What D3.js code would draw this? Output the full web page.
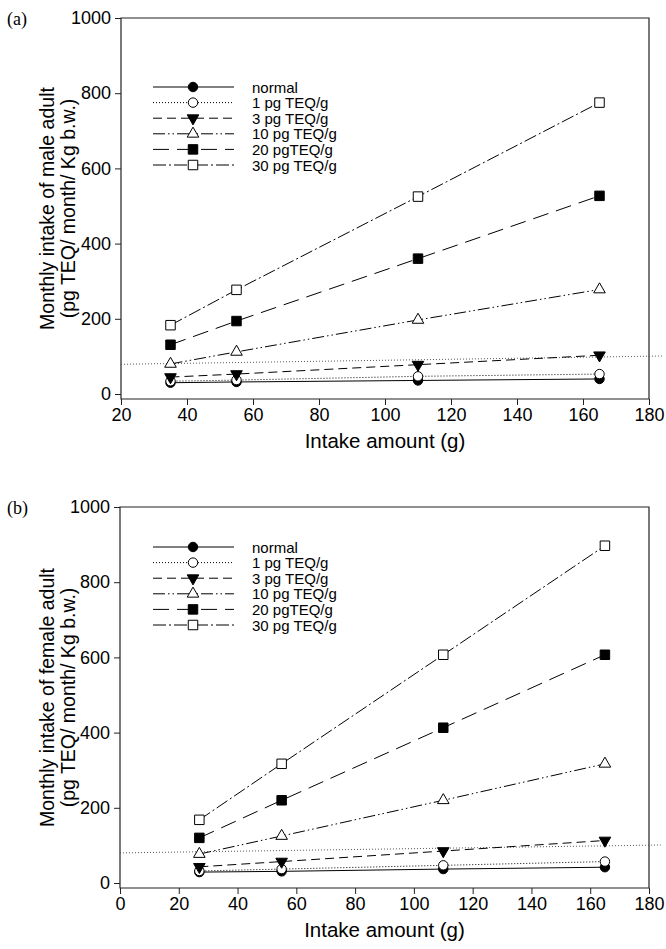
<!DOCTYPE html>
<html>
<head>
<meta charset="utf-8">
<script src="https://cdn.jsdelivr.net/npm/d3@7"></script>
<style>
body{margin:0;background:#fff;}
svg{display:block;}
text{font-family:"Liberation Sans",Arial,sans-serif;fill:#000;}
</style>
</head>
<body>
<svg id="chart" width="666" height="949"></svg>
<script>
// ---- data ----
const seriesNames = ["normal", "1 pg TEQ/g", "3 pg TEQ/g", "10 pg TEQ/g", "20 pgTEQ/g", "30 pg TEQ/g"];
const maleX = [35, 55, 110, 165];
const maleNormal = [30, 32, 36, 40];
const male1 = [34, 37, 47, 53];
const male3 = [45, 53, 78, 103];
const male10 = [80, 112, 197, 278];
const male20 = [131, 194, 360, 527];
const male30 = [183, 277, 525, 775];
const femaleX = [27, 55, 110, 165];
const femaleNormal = [29, 31, 37, 42];
const female1 = [32, 37, 47, 57];
const female3 = [43, 57, 85, 113];
const female10 = [77, 125, 220, 317];
const female20 = [120, 220, 413, 607];
const female30 = [168, 317, 607, 897];
const maleRefX = [20, 184];
const maleRefY = [79, 101];
const femaleRefX = [0, 184];
const femaleRefY = [80, 101];
const yTicks = [0, 200, 400, 600, 800, 1000];
const maleXTicks = [20, 40, 60, 80, 100, 120, 140, 160, 180];
const femaleXTicks = [0, 20, 40, 60, 80, 100, 120, 140, 160, 180];

// ---- styles ----
const dashes = ["none", "1,2", "9,5", "12,3,1.5,3,1.5,3", "16,8", "13,3,2,3"];
const markers = [
  {type: d3.symbolCircle, size: 70, fill: "#000", rot: 0},
  {type: d3.symbolCircle, size: 70, fill: "#fff", rot: 0},
  {type: d3.symbolTriangle, size: 58, fill: "#000", rot: 180},
  {type: d3.symbolTriangle, size: 58, fill: "#fff", rot: 0},
  {type: d3.symbolSquare, size: 90, fill: "#000", rot: 0},
  {type: d3.symbolSquare, size: 90, fill: "#fff", rot: 0}
];

const svg = d3.select("#chart");

function panel(opt) {
  const g = svg.append("g");
  const x = d3.scaleLinear().domain(opt.xDomain).range(opt.xRange);
  const y = d3.scaleLinear().domain([0, 1000]).range(opt.yRange);
  const axisY = y(0) + 5;
  const left = opt.xRange[0], right = opt.xRange[1], top = y(1000);

  // box
  g.append("path")
    .attr("d", `M${left},${top}H${right}V${axisY}H${left}Z`)
    .attr("fill", "none").attr("stroke", "#222").attr("stroke-width", 1.2);

  // y axis
  const ya = g.append("g").attr("transform", `translate(${left},0)`)
    .call(d3.axisLeft(y).tickValues(yTicks).tickSize(6).tickPadding(4).tickFormat(d3.format("d")));
  ya.select(".domain").remove();
  ya.selectAll("text").style("font-size", "18px").style("font-family", "'Liberation Sans',Arial,sans-serif");
  ya.selectAll("line").attr("stroke", "#222");

  // x axis
  const xa = g.append("g").attr("transform", `translate(0,${axisY})`)
    .call(d3.axisBottom(x).tickValues(opt.xTicks).tickSize(6).tickPadding(3).tickFormat(d3.format("d")));
  xa.select(".domain").remove();
  xa.selectAll("text").style("font-size", "18px").style("font-family", "'Liberation Sans',Arial,sans-serif");
  xa.selectAll("line").attr("stroke", "#222");

  // reference dotted line
  g.append("path")
    .datum(opt.refX.map((d, i) => [d, opt.refY[i]]))
    .attr("d", d3.line().x(d => x(d[0])).y(d => y(d[1])))
    .attr("fill", "none").attr("stroke", "#444").attr("stroke-width", 0.9).attr("stroke-dasharray", "1,2");

  // series
  const line = d3.line().x(d => x(d[0])).y(d => y(d[1]));
  opt.series.forEach((vals, i) => {
    const pts = opt.xs.map((xv, j) => [xv, vals[j]]);
    g.append("path").datum(pts).attr("d", line)
      .attr("fill", "none").attr("stroke", "#000").attr("stroke-width", 1)
      .attr("stroke-dasharray", dashes[i]);
  });
  opt.series.forEach((vals, i) => {
    const m = markers[i];
    const sym = d3.symbol().type(m.type).size(m.size);
    opt.xs.forEach((xv, j) => {
      g.append("path").attr("d", sym)
        .attr("transform", `translate(${x(xv)},${y(vals[j])}) rotate(${m.rot})`)
        .attr("fill", m.fill).attr("stroke", "#000").attr("stroke-width", 1);
    });
  });

  // legend
  seriesNames.forEach((name, i) => {
    const ly = opt.legendY + i * 15.6;
    g.append("line").attr("x1", 153).attr("x2", 234).attr("y1", ly).attr("y2", ly)
      .attr("stroke", "#000").attr("stroke-width", 1).attr("stroke-dasharray", dashes[i]);
    const m = markers[i];
    g.append("path").attr("d", d3.symbol().type(m.type).size(m.size))
      .attr("transform", `translate(193,${ly}) rotate(${m.rot})`)
      .attr("fill", m.fill).attr("stroke", "#000").attr("stroke-width", 1);
    g.append("text").attr("x", 252).attr("y", ly + 5.5).style("font-size", "15px").text(name);
  });

  // titles
  const cy = (top + axisY) / 2;
  g.append("text").attr("transform", `translate(54,${cy}) rotate(-90)`)
    .attr("text-anchor", "middle").style("font-size", "19.5px").text(opt.yTitle1);
  g.append("text").attr("transform", `translate(75,${cy}) rotate(-90)`)
    .attr("text-anchor", "middle").style("font-size", "19.5px").text(opt.yTitle2);
  g.append("text").attr("x", (left + right) / 2).attr("y", axisY + 49)
    .attr("text-anchor", "middle").style("font-size", "20.5px").text("Intake amount (g)");
  g.append("text").attr("x", 7).attr("y", top + 7)
    .style("font-family", "'Liberation Serif','Times New Roman',serif").style("font-size", "18px").text(opt.tag);
}

panel({
  xDomain: [20, 180], xRange: [121, 649], yRange: [394, 18],
  xTicks: maleXTicks, xs: maleX,
  series: [maleNormal, male1, male3, male10, male20, male30],
  refX: maleRefX, refY: maleRefY, legendY: 87,
  yTitle1: "Monthly intake of male adult", yTitle2: "(pg TEQ/ month/ Kg b.w.)", tag: "(a)"
});
panel({
  xDomain: [0, 180], xRange: [120, 649], yRange: [883, 507],
  xTicks: femaleXTicks, xs: femaleX,
  series: [femaleNormal, female1, female3, female10, female20, female30],
  refX: femaleRefX, refY: femaleRefY, legendY: 547,
  yTitle1: "Monthly intake of female adult", yTitle2: "(pg TEQ/ month/ Kg b.w.)", tag: "(b)"
});
</script>
</body>
</html>
